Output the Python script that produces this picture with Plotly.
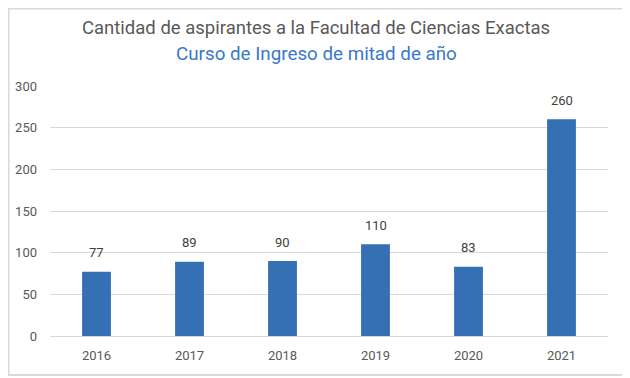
import plotly.graph_objects as go

years = ["2016", "2017", "2018", "2019", "2020", "2021"]
aspirantes = [77, 89, 90, 110, 83, 260]
y_ticks = [0, 50, 100, 150, 200, 250, 300]

title_line1 = "Cantidad de aspirantes a la Facultad de Ciencias Exactas"
title_line2 = "Curso de Ingreso de mitad de año"

FONT = "Roboto"
fig = go.Figure()
fig.add_trace(go.Bar(x=years, y=aspirantes, marker=dict(color="#3570B5", line=dict(width=0)),
                     hoverinfo="x+y"))

for i, v in enumerate(aspirantes):
    fig.add_annotation(x=i, y=v, text=str(v), showarrow=False, yshift=19,
                       xanchor="center", yanchor="middle",
                       font=dict(family=FONT, size=13, color="#404040"))

fig.add_annotation(x=0.477, y=1.232, xref="paper", yref="paper", text=title_line1, showarrow=False,
                   xanchor="center", yanchor="middle",
                   font=dict(family=FONT, size=18.5, color="#595959"))
fig.add_annotation(x=0.477, y=1.128, xref="paper", yref="paper", text=title_line2, showarrow=False,
                   xanchor="center", yanchor="middle",
                   font=dict(family=FONT, size=18.8, color="#3A78C8"))

fig.add_shape(type="rect", xref="paper", yref="paper", x0=-0.0744, x1=1.034, y0=-0.156, y1=1.31,
              line=dict(color="#D9D9D9", width=2), layer="below")

fig.update_layout(
    width=622, height=370,
    margin=dict(l=42, r=22, t=78, b=42, autoexpand=False),
    paper_bgcolor="white", plot_bgcolor="white",
    bargap=0.69, showlegend=False,
    font=dict(family=FONT, size=13, color="#595959"),
    xaxis=dict(type="category", range=[-0.5, 5.5], showgrid=False, showline=False, ticks="",
               ticklabelstandoff=10, automargin=False, tickfont=dict(size=13, color="#595959")),
    yaxis=dict(range=[0, 300], tickvals=y_ticks, showgrid=True, gridcolor="#D9D9D9", gridwidth=1,
               zeroline=True, zerolinecolor="#D9D9D9", zerolinewidth=1, showline=False,
               automargin=False, ticks="", ticklabelstandoff=12,
               tickfont=dict(size=13, color="#595959")),
)

fig.write_html("out.html")
